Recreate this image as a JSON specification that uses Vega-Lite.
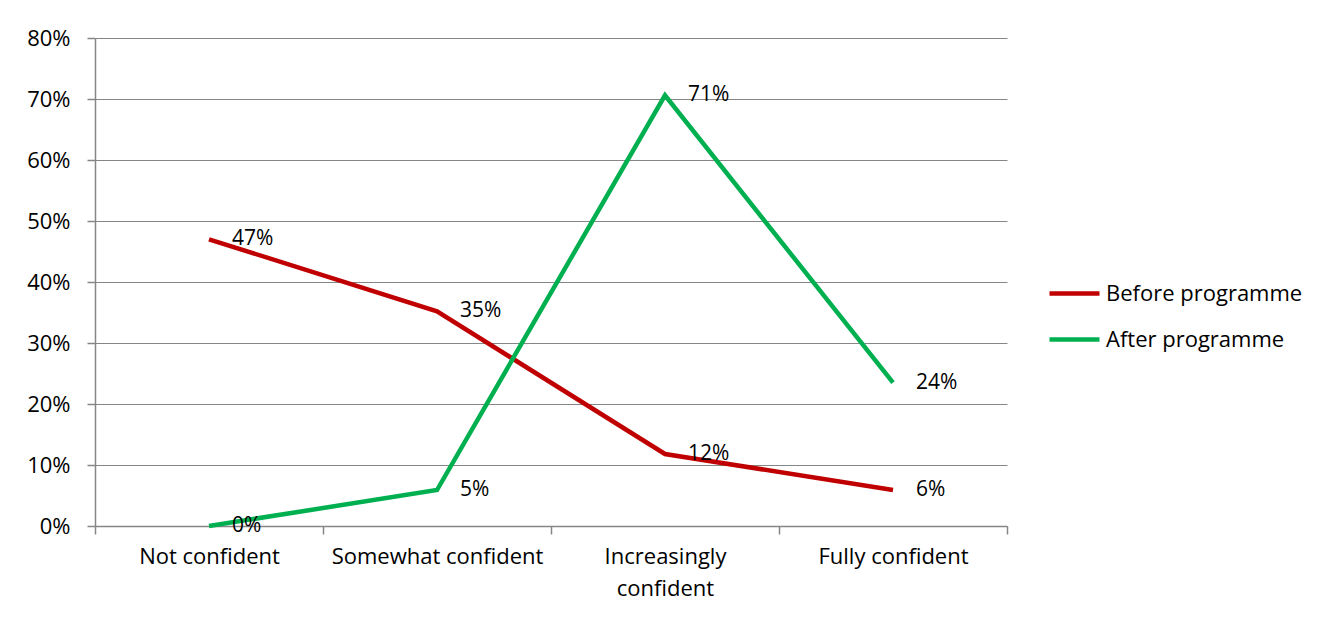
{
  "$schema": "https://vega.github.io/schema/vega-lite/v6.json",
  "width": 912,
  "height": 488,
  "autosize": {"type": "none"},
  "padding": {"left": 95, "top": 38, "right": 335, "bottom": 94},
  "background": "white",
  "config": {
    "view": {"stroke": null},
    "font": "Open Sans",
    "axis": {"labelFont": "Open Sans", "labelFontSize": 22, "labelColor": "#000000", "labelLimit": 400, "domainColor": "#868686", "tickColor": "#868686", "gridColor": "#868686", "domainWidth": 1.5, "tickWidth": 1.5, "gridWidth": 1.2},
    "legend": {"labelFont": "Open Sans", "labelFontSize": 22, "labelColor": "#000000", "labelLimit": 400}
  },
  "data": {
    "values": [
      {"level": "Not confident", "series": "Before programme", "pct": 0.47, "label": "47%"},
      {"level": "Somewhat confident", "series": "Before programme", "pct": 0.352, "label": "35%"},
      {"level": "Increasingly confident", "series": "Before programme", "pct": 0.118, "label": "12%"},
      {"level": "Fully confident", "series": "Before programme", "pct": 0.059, "label": "6%"},
      {"level": "Not confident", "series": "After programme", "pct": 0.0, "label": "0%"},
      {"level": "Somewhat confident", "series": "After programme", "pct": 0.059, "label": "5%"},
      {"level": "Increasingly confident", "series": "After programme", "pct": 0.706, "label": "71%"},
      {"level": "Fully confident", "series": "After programme", "pct": 0.235, "label": "24%"}
    ]
  },
  "encoding": {
    "x": {
      "field": "level", "type": "nominal",
      "sort": ["Not confident", "Somewhat confident", "Increasingly confident", "Fully confident"],
      "scale": {"paddingInner": 0, "paddingOuter": 0},
      "axis": {"title": null, "labelAngle": 0, "tickBand": "extent", "tickSize": 8, "labelPadding": 12, "labelLineHeight": 32, "grid": false,
        "labelExpr": "datum.label == 'Increasingly confident' ? ['Increasingly', 'confident'] : datum.label"}
    },
    "y": {
      "field": "pct", "type": "quantitative",
      "scale": {"domain": [0, 0.8], "nice": false},
      "axis": {"title": null, "format": ".0%", "values": [0, 0.1, 0.2, 0.3, 0.4, 0.5, 0.6, 0.7, 0.8], "tickSize": 8, "labelPadding": 17, "grid": true}
    }
  },
  "layer": [
    {
      "mark": {"type": "line", "strokeWidth": 4.5},
      "encoding": {
        "color": {
          "field": "series", "type": "nominal",
          "sort": ["Before programme", "After programme"],
          "scale": {"domain": ["Before programme", "After programme"], "range": ["#C00000", "#00B050"]},
          "legend": {"title": null, "orient": "none", "legendX": 952, "legendY": 228, "symbolType": "stroke", "symbolSize": 2500, "symbolStrokeWidth": 4.5, "rowPadding": 7, "labelOffset": 4, "padding": 0}
        }
      }
    },
    {
      "mark": {"type": "text", "align": "left", "baseline": "middle", "dx": 23, "dy": 0, "fontSize": 21, "font": "Open Sans", "color": "#000000"},
      "encoding": {"text": {"field": "label"}}
    }
  ]
}
